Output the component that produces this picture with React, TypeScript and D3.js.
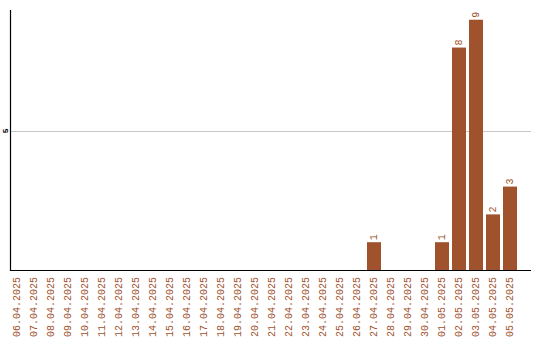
import React from "react";
import * as d3 from "d3";

const dates = [
  "06.04.2025", "07.04.2025", "08.04.2025", "09.04.2025", "10.04.2025",
  "11.04.2025", "12.04.2025", "13.04.2025", "14.04.2025", "15.04.2025",
  "16.04.2025", "17.04.2025", "18.04.2025", "19.04.2025", "20.04.2025",
  "21.04.2025", "22.04.2025", "23.04.2025", "24.04.2025", "25.04.2025",
  "26.04.2025", "27.04.2025", "28.04.2025", "29.04.2025", "30.04.2025",
  "01.05.2025", "02.05.2025", "03.05.2025", "04.05.2025", "05.05.2025",
];
const counts = [
  0, 0, 0, 0, 0, 0, 0, 0, 0, 0,
  0, 0, 0, 0, 0, 0, 0, 0, 0, 0,
  0, 1, 0, 0, 0, 1, 8, 9, 2, 3,
];
const yTicks = [5];

const W = 540;
const H = 340;
const left = 10;
const top = 10;
const bottom = 270;
const right = 530;
const barColor = "#A0522D";
const mono = "'Liberation Mono', 'DejaVu Sans Mono', monospace";

export default function App() {
  const x = d3
    .scaleBand<string>()
    .domain(dates)
    .range([left, left + dates.length * 17 - 3])
    .paddingInner(3 / 17)
    .paddingOuter(0);
  const y = d3.scaleLinear().domain([0, 9.35]).range([bottom, top]);

  return (
    <svg
      width={W}
      height={H}
      style={{ position: "absolute", left: 0, top: 0, background: "#fff" }}
    >
      {yTicks.map((t) => (
        <g key={t}>
          <line
            x1={left + 1}
            x2={right + 1}
            y1={Math.round(y(t)) + 0.5}
            y2={Math.round(y(t)) + 0.5}
            stroke="#c8c8c8"
            strokeWidth={1}
          />
          <text
            transform={`translate(5,${y(t)}) rotate(-90)`}
            textAnchor="middle"
            dominantBaseline="central"
            fontFamily={mono}
            fontSize={8}
            fontWeight="bold"
            fill="#000"
          >
            {t}
          </text>
        </g>
      ))}
      {dates.map((d, i) =>
        counts[i] > 0 ? (
          <g key={d}>
            <rect
              x={x(d)}
              y={y(counts[i])}
              width={x.bandwidth()}
              height={bottom - y(counts[i])}
              fill={barColor}
            />
            <text
              transform={`translate(${x(d)! + x.bandwidth() / 2},${y(counts[i]) - 2}) rotate(-90)`}
              textAnchor="start"
              dominantBaseline="central"
              fontFamily={mono}
              fontSize={10}
              fill={barColor}
            >
              {counts[i]}
            </text>
          </g>
        ) : null
      )}
      <line x1={left + 0.5} x2={left + 0.5} y1={top} y2={bottom + 1} stroke="#000" strokeWidth={1.2} />
      <line x1={left} x2={right + 1} y1={bottom + 0.5} y2={bottom + 0.5} stroke="#000" strokeWidth={1.2} />
      {dates.map((d) => (
        <text
          key={"l" + d}
          transform={`translate(${x(d)! + x.bandwidth() / 2},${bottom + 7}) rotate(-90)`}
          textAnchor="end"
          dominantBaseline="central"
          fontFamily={mono}
          fontSize={10}
          fill={barColor}
        >
          {d}
        </text>
      ))}
    </svg>
  );
}
